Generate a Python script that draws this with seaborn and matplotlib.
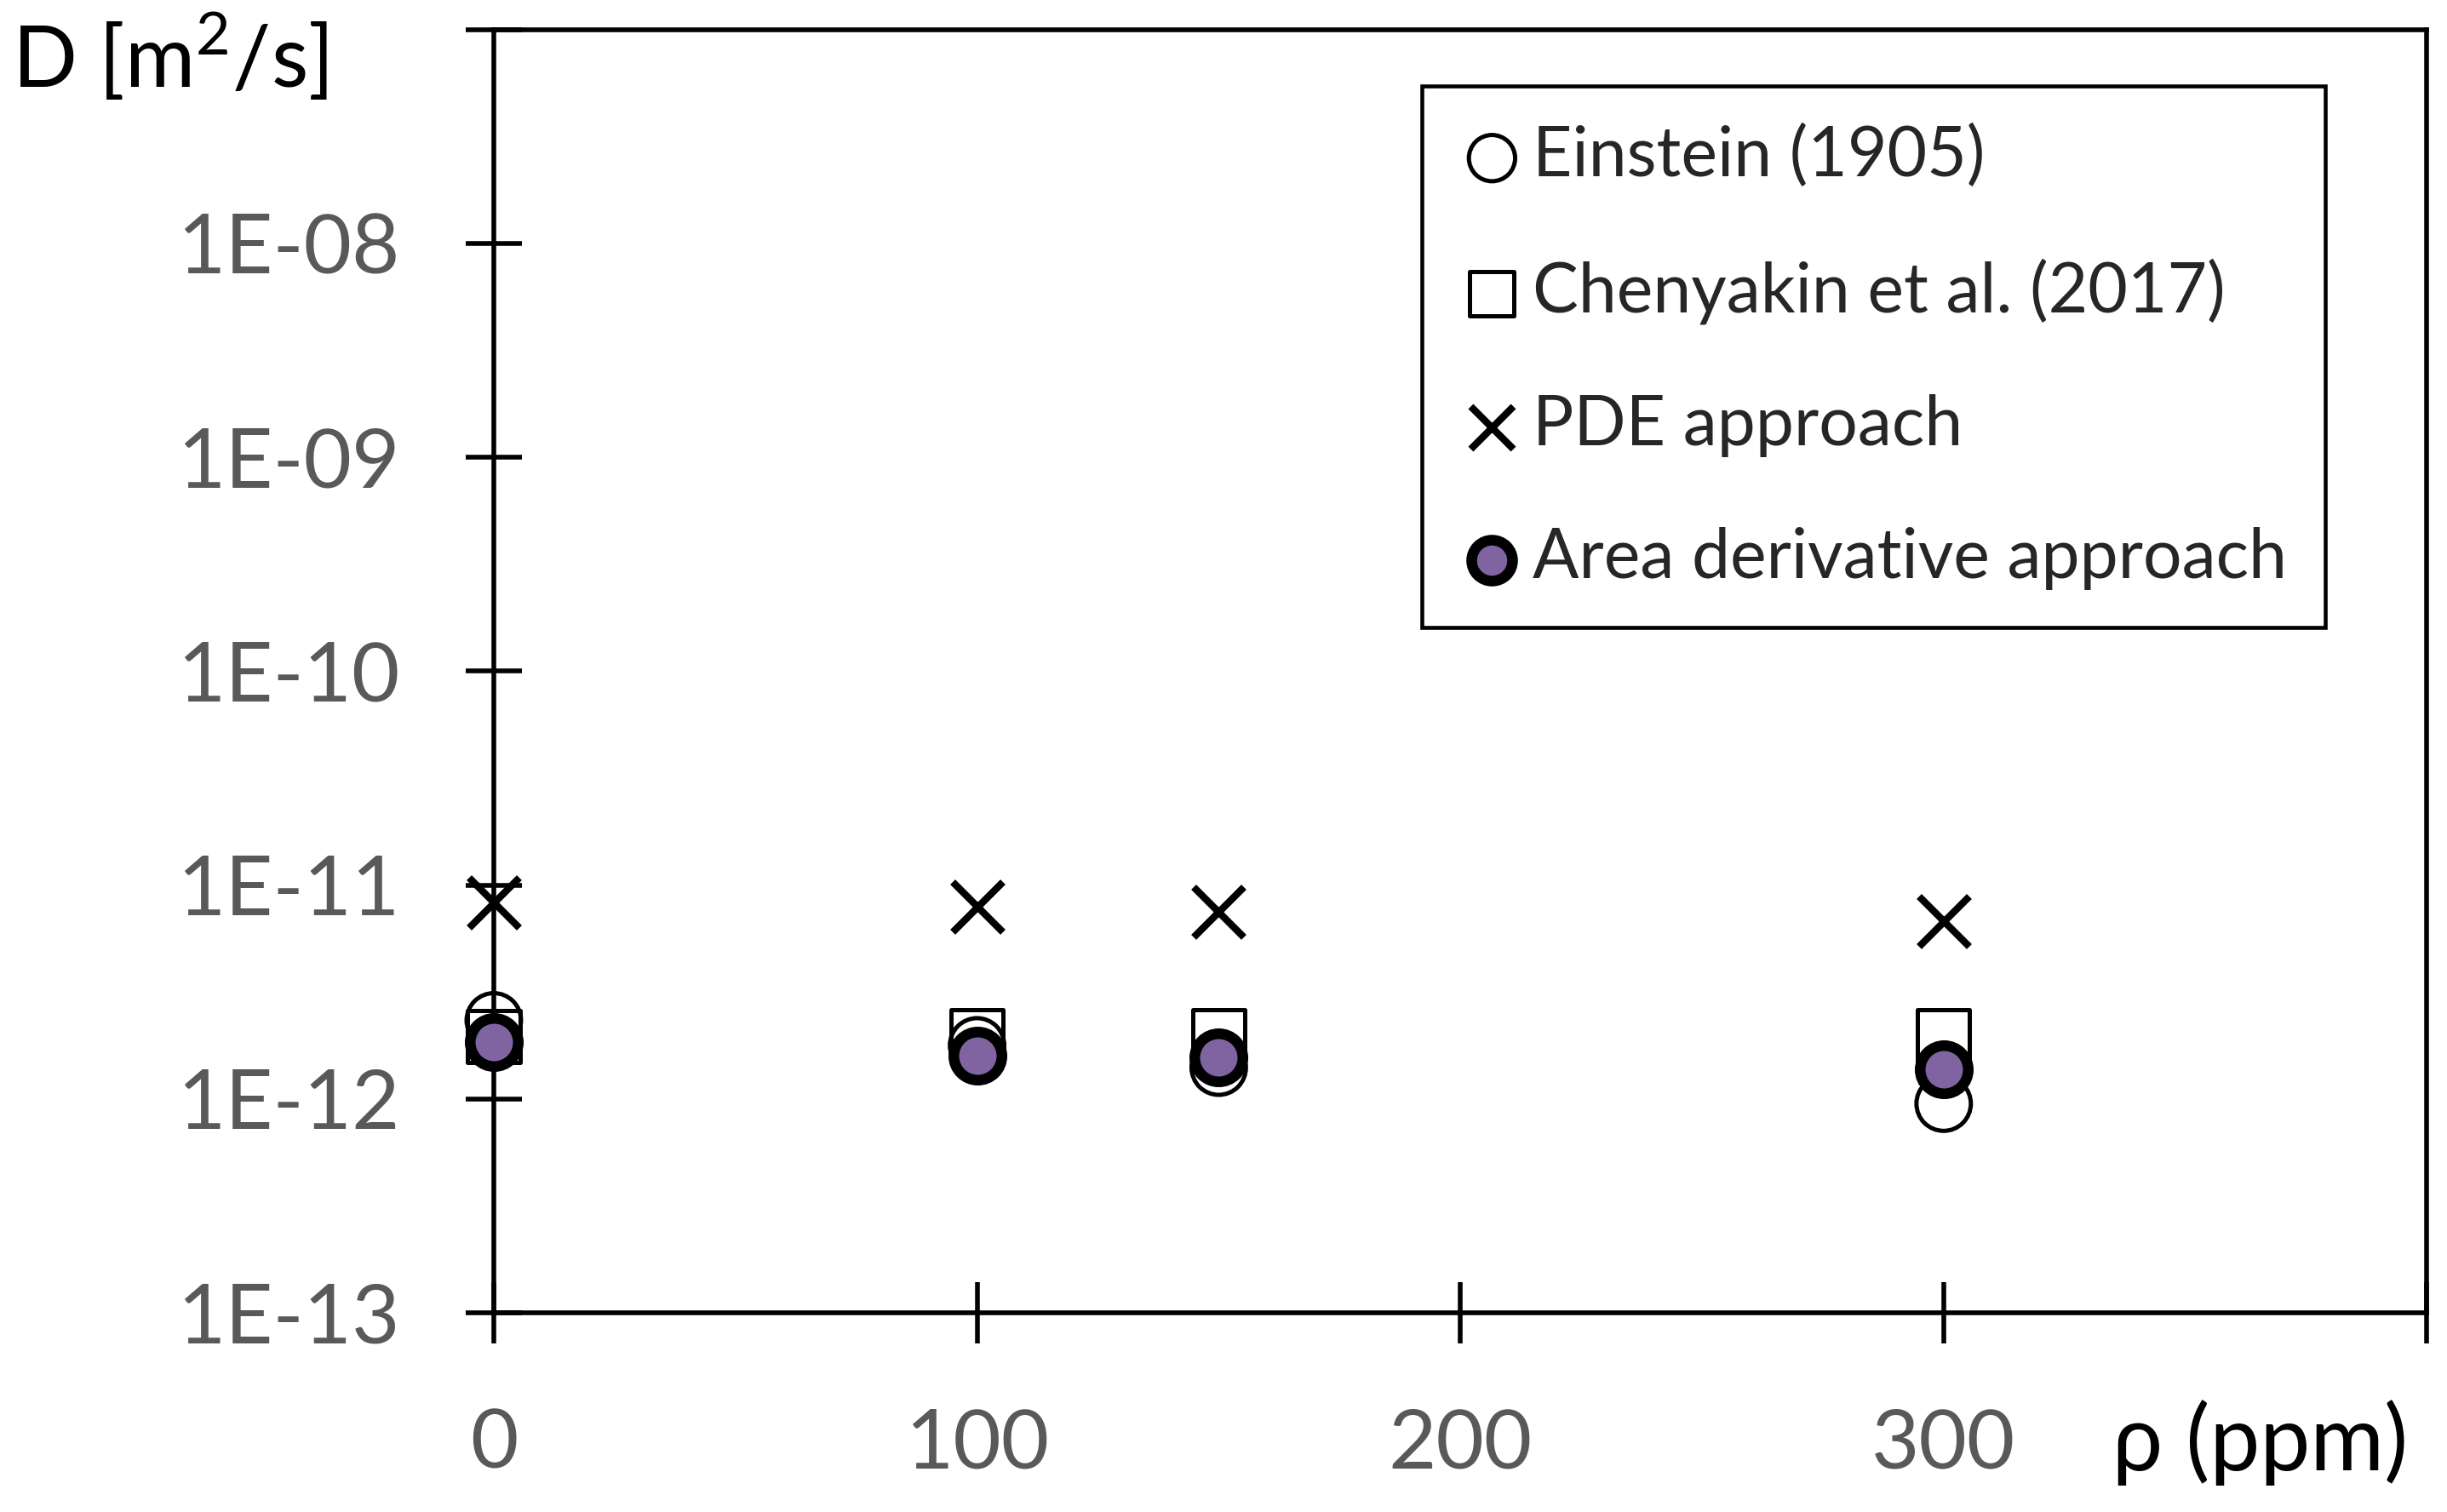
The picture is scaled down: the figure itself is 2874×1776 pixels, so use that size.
import matplotlib
matplotlib.use("Agg")
import matplotlib.pyplot as plt
import pandas as pd
import seaborn as sns
from matplotlib import ticker

sns.set_theme(style="white")
plt.rcParams['font.family'] = ['Lato', 'DejaVu Sans']
plt.rcParams['mathtext.fontset'] = 'custom'
plt.rcParams['mathtext.rm'] = 'Lato'

# values
conc = [0, 100, 150, 300]
einstein = [2.33e-12, 1.78e-12, 1.40e-12, 9.5e-13]
chenyakin = [1.96e-12, 1.97e-12, 1.97e-12, 1.97e-12]
pde = [8.3e-12, 7.9e-12, 7.5e-12, 6.8e-12]
area_deriv = [1.84e-12, 1.60e-12, 1.56e-12, 1.38e-12]

series_names = ["Einstein (1905)", "Chenyakin et al. (2017)",
                "PDE approach", "Area derivative approach"]
x_ticks = [0, 100, 200, 300, 400]
x_tick_labels = ["0", "100", "200", "300", ""]
y_ticks = [1e-13, 1e-12, 1e-11, 1e-10, 1e-9, 1e-8, 1e-7]
y_tick_labels = ["1E-13", "1E-12", "1E-11", "1E-10", "1E-09", "1E-08", ""]

df = pd.concat([
    pd.DataFrame({"conc": conc, "D": vals, "series": name})
    for name, vals in zip(series_names, [einstein, chenyakin, pde, area_deriv])
])

styles = {
    "Einstein (1905)": dict(marker="o", s=2116, facecolor="none",
                            edgecolor="black", linewidth=3.6),
    "Chenyakin et al. (2017)": dict(marker="s", s=1936, facecolor="none",
                                    edgecolor="black", linewidth=3.6),
    "PDE approach": dict(marker="x", s=1800, color="black", linewidth=6),
    "Area derivative approach": dict(marker="o", s=1656, facecolor="#8064A2",
                                     edgecolor="black", linewidth=9),
}

fig = plt.figure(figsize=(28.74, 17.76), dpi=100)
ax = fig.add_axes([0.2018, 0.1318, 0.790, 0.8485])

for name in series_names:
    sub = df[df["series"] == name]
    sns.scatterplot(data=sub, x="conc", y="D", ax=ax, label=name, legend=False,
                    clip_on=False, zorder=3, **styles[name])

ax.set_yscale("log")
ax.set_xlim(0, 400)
ax.set_ylim(1e-13, 1e-7)
ax.set_xticks(x_ticks)
ax.set_xticklabels(x_tick_labels)
ax.set_yticks(y_ticks)
ax.set_yticklabels(y_tick_labels)
ax.yaxis.set_minor_locator(ticker.NullLocator())
ax.set_xlabel("")
ax.set_ylabel("")

for sp in ax.spines.values():
    sp.set_linewidth(4)
    sp.set_color("black")

ax.tick_params(axis="y", left=True, direction="inout", length=47, width=4,
               color="black", labelcolor="#595959", labelsize=70, pad=56)
ax.tick_params(axis="x", bottom=True, direction="inout", length=52, width=4,
               color="black", labelcolor="#595959", labelsize=70, pad=54)

fig.text(0.005, 0.942, r"D [m$^{2}$/s]", fontsize=72, color="black",
         ha="left", va="baseline")
fig.text(0.984, 1 - 1727 / 1776, "ρ (ppm)", fontsize=76, color="black",
         ha="right", va="baseline")

leg = ax.legend(loc="upper left", bbox_to_anchor=(0.480, 0.956),
                borderaxespad=0, fontsize=58, markerscale=0.85, scatterpoints=1,
                handlelength=0.95, handletextpad=0.12, borderpad=0.55,
                labelspacing=1.02, fancybox=False, framealpha=1,
                edgecolor="black")
leg.get_frame().set_linewidth(3.3)

plt.savefig("out.png", dpi=100)
